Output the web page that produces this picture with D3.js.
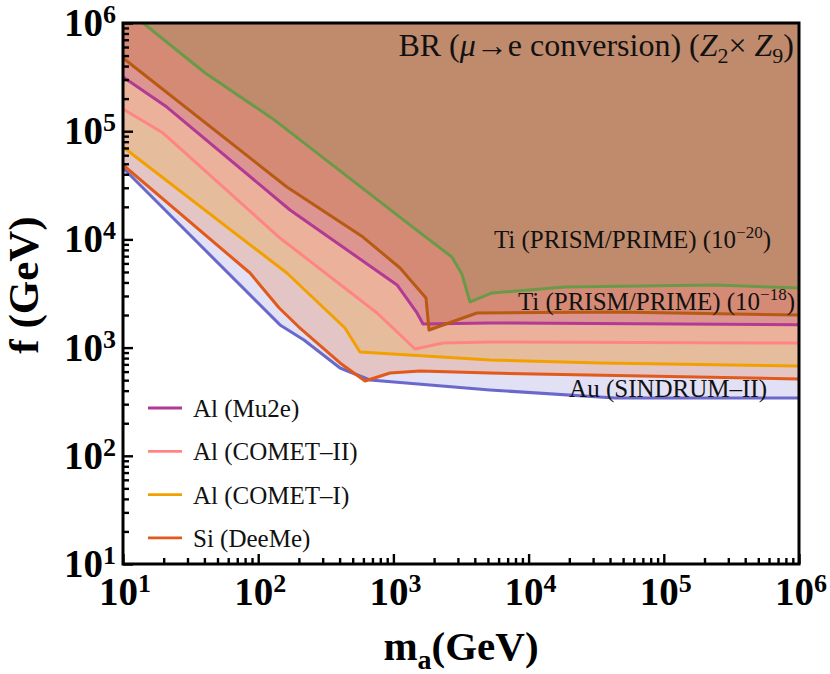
<!DOCTYPE html>
<html>
<head>
<meta charset="utf-8">
<script src="https://cdn.jsdelivr.net/npm/d3@7"></script>
<style>
  body { margin: 0; background: #fff; }
  text { font-family: "Liberation Serif", serif; }
</style>
</head>
<body>
<div id="chart"></div>
<script>
// masses (GeV) and lower bounds on f (GeV)
const auMass = [10, 145, 218, 403, 671, 5170, 43500, 1e6];
const auF = [45700, 1620, 1175, 648, 502, 406, 342, 342];

const siMass = [10, 87, 143, 200, 403, 617, 944, 1574, 5180, 1e6];
const siF = [48700, 4890, 2323, 1549, 721, 491, 582, 608, 582, 513];

const comet1Mass = [10, 163, 438, 566, 5180, 33700, 1e6];
const comet1F = [71400, 4890, 1518, 910, 768, 721, 676];

const comet2Mass = [10, 19.8, 145, 757, 1445, 2330, 5180, 1e6];
const comet2F = [160000, 96200, 10300, 2089, 970, 1103, 1127, 1100];

const mu2eMass = [10, 21.1, 172, 1064, 1496, 1656, 5180, 1e6];
const mu2eF = [317000, 167000, 18700, 3790, 2089, 1652, 1690, 1625];

const ti18Mass = [10, 163, 596, 1120, 1742, 1834, 4150, 43500, 1e6];
const ti18F = [475000, 30500, 10500, 5440, 2873, 1454, 2089, 2133, 2000];

const ti20Mass = [10, 14.1, 40.5, 126.5, 1445, 2710, 3210, 3690, 5360, 18600, 239000, 1e6];
const ti20F = [1410000, 1e6, 345000, 132000, 12500, 6880, 4790, 2640, 3200, 3630, 3790, 3560];

const decades = [1, 2, 3, 4, 5, 6];
const legendNames = ["Al (Mu2e)", "Al (COMET\u2013II)", "Al (COMET\u2013I)", "Si (DeeMe)"];

// drawing order: lowest bound first, each filled up to the top
const curves = [
  { mass: auMass, f: auF, line: "#6b68cc", fill: "#e1e0f4" },
  { mass: siMass, f: siF, line: "#e2591a", fill: "#e3c5c6" },
  { mass: comet1Mass, f: comet1F, line: "#f2a000", fill: "#e5bd9c" },
  { mass: comet2Mass, f: comet2F, line: "#ff8585", fill: "#ecb19a" },
  { mass: mu2eMass, f: mu2eF, line: "#b23994", fill: "#dd9592" },
  { mass: ti18Mass, f: ti18F, line: "#b85a12", fill: "#d58a75" },
  { mass: ti20Mass, f: ti20F, line: "#6a9a48", fill: "#c08b6c" }
];

const width = 830;
const height = 674;
const plotL = 123, plotR = 799, plotT = 23, plotB = 564;

const x = d3.scaleLog().domain([10, 1e6]).range([plotL, plotR]);
const y = d3.scaleLog().domain([10, 1e6]).range([plotB, plotT]);

const svg = d3.select("#chart").append("svg")
  .attr("width", width)
  .attr("height", height);

svg.append("clipPath").attr("id", "plot")
  .append("rect")
  .attr("x", plotL).attr("y", plotT)
  .attr("width", plotR - plotL).attr("height", plotB - plotT);

const g = svg.append("g").attr("clip-path", "url(#plot)");

const area = d3.area()
  .x((d) => x(d[0]))
  .y0(plotT - 40)
  .y1((d) => y(d[1]));
const line = d3.line()
  .x((d) => x(d[0]))
  .y((d) => y(d[1]));

curves.forEach((c) => {
  const pts = c.mass.map((m, i) => [m, c.f[i]]);
  g.append("path").attr("d", area(pts)).attr("fill", c.fill);
});
curves.forEach((c) => {
  const pts = c.mass.map((m, i) => [m, c.f[i]]);
  g.append("path").attr("d", line(pts))
    .attr("fill", "none")
    .attr("stroke", c.line)
    .attr("stroke-width", 3)
    .attr("stroke-linejoin", "round");
});

// ticks, inside, on left and bottom
const minor = [];
for (let e = 1; e < 6; e++) {
  for (let k = 2; k <= 9; k++) minor.push(k * Math.pow(10, e));
}
const majors = decades.map((e) => Math.pow(10, e));

svg.append("g")
  .attr("transform", `translate(${plotL},0)`)
  .call(d3.axisLeft(y).tickValues(minor).tickSize(-6).tickFormat(""))
  .call((a) => a.select(".domain").remove());
svg.append("g")
  .attr("transform", `translate(${plotL},0)`)
  .call(d3.axisLeft(y).tickValues(majors).tickSize(-10).tickFormat(""))
  .call((a) => a.select(".domain").remove());
svg.append("g")
  .attr("transform", `translate(0,${plotB})`)
  .call(d3.axisBottom(x).tickValues(minor).tickSize(-6).tickFormat(""))
  .call((a) => a.select(".domain").remove());
svg.append("g")
  .attr("transform", `translate(0,${plotB})`)
  .call(d3.axisBottom(x).tickValues(majors).tickSize(-10).tickFormat(""))
  .call((a) => a.select(".domain").remove());
svg.selectAll(".tick line").attr("stroke", "#000").attr("stroke-width", 2.4);

// frame
svg.append("rect")
  .attr("x", plotL).attr("y", plotT)
  .attr("width", plotR - plotL).attr("height", plotB - plotT)
  .attr("fill", "none")
  .attr("stroke", "#000")
  .attr("stroke-width", 3);

// tick labels 10^n
function powerLabel(sel, e) {
  sel.append("tspan").text("10");
  sel.append("tspan").attr("dy", -13).attr("font-size", 26).text(e);
}
decades.forEach((e) => {
  const t = svg.append("text")
    .attr("x", 116)
    .attr("y", y(Math.pow(10, e)) + 13)
    .attr("text-anchor", "end")
    .attr("font-size", 39)
    .attr("font-weight", "bold");
  powerLabel(t, e);
  const b = svg.append("text")
    .attr("x", x(Math.pow(10, e)) + 2)
    .attr("y", 605)
    .attr("text-anchor", "middle")
    .attr("font-size", 39)
    .attr("font-weight", "bold");
  powerLabel(b, e);
});

// axis titles
const xt = svg.append("text")
  .attr("x", 461).attr("y", 660)
  .attr("text-anchor", "middle")
  .attr("font-size", 41)
  .attr("font-weight", "bold");
xt.append("tspan").text("m");
xt.append("tspan").attr("dy", 9).attr("font-size", 28).text("a");
xt.append("tspan").attr("dy", -9).text("(GeV)");

svg.append("text")
  .attr("transform", "translate(38,285) rotate(-90)")
  .attr("text-anchor", "middle")
  .attr("font-size", 43)
  .attr("font-weight", "bold")
  .text("f (GeV)");

// in-plot labels
const title = svg.append("text")
  .attr("x", 794).attr("y", 56)
  .attr("text-anchor", "end")
  .attr("font-size", 32)
  .attr("fill", "#111");
title.append("tspan").text("BR (");
title.append("tspan").attr("font-style", "italic").text("\u03bc");
title.append("tspan").text("\u2192e conversion) (");
title.append("tspan").attr("font-style", "italic").text("Z");
title.append("tspan").attr("dy", 7).attr("font-size", 22).text("2");
title.append("tspan").attr("dy", -7).text("\u00d7 ");
title.append("tspan").attr("font-style", "italic").text("Z");
title.append("tspan").attr("dy", 7).attr("font-size", 22).text("9");
title.append("tspan").attr("dy", -7).text(")");

function expLabel(xp, yp, base, exp) {
  const t = svg.append("text")
    .attr("x", xp).attr("y", yp)
    .attr("text-anchor", "end")
    .attr("font-size", 25)
    .attr("fill", "#111");
  t.append("tspan").text(base);
  t.append("tspan").attr("dy", -10).attr("font-size", 17).text(exp);
  t.append("tspan").attr("dy", 10).text(")");
}
expLabel(771, 248, "Ti (PRISM/PRIME) (10", "\u221220");
expLabel(795, 310, "Ti (PRISM/PRIME) (10", "\u221218");

svg.append("text")
  .attr("x", 767).attr("y", 397)
  .attr("text-anchor", "end")
  .attr("font-size", 25)
  .attr("fill", "#111")
  .text("Au (SINDRUM\u2013II)");

// legend
const legendColors = curves.slice(1, 5).map((c) => c.line).reverse();
legendNames.forEach((name, i) => {
  const ly = 408 + i * 43.3;
  svg.append("line")
    .attr("x1", 148).attr("x2", 182)
    .attr("y1", ly).attr("y2", ly)
    .attr("stroke", legendColors[i])
    .attr("stroke-width", 2.8);
  svg.append("text")
    .attr("x", 193).attr("y", ly + 9)
    .attr("font-size", 25)
    .attr("fill", "#111")
    .text(name);
});
</script>
</body>
</html>
